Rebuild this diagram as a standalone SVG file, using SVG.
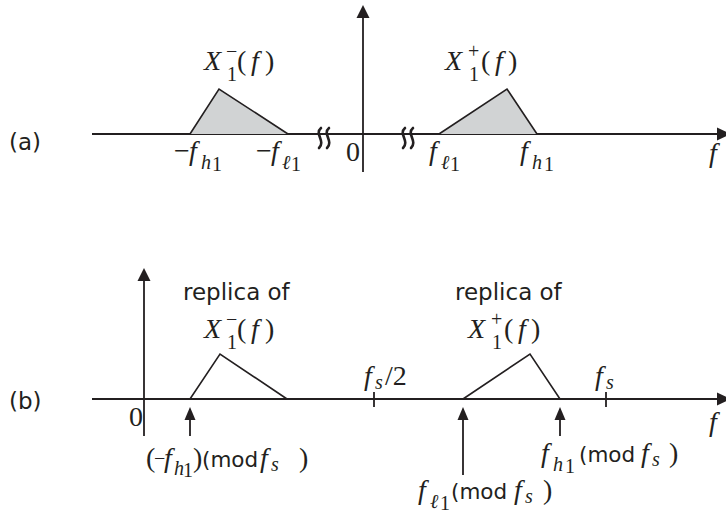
<svg xmlns="http://www.w3.org/2000/svg" width="726" height="522" viewBox="0 0 726 522">
<style>
.ax{stroke:#231f20;stroke-width:1.8;fill:none}
.tri{stroke:#231f20;stroke-width:1.6;fill:none}
.fill{fill:#d1d3d4}
.ah{fill:#231f20}
.brk{stroke:#231f20;stroke-width:2.6;fill:none;stroke-linecap:round}
text{fill:#231f20}
.m{font-family:"Liberation Serif","Times New Roman",serif;font-style:italic;font-size:28px}
.r{font-family:"Liberation Serif","Times New Roman",serif;font-style:normal;font-size:28px}
.sb{font-size:20px}
.s{font-family:"DejaVu Sans",Verdana,sans-serif;font-style:normal;font-size:23px}
.md{font-family:"DejaVu Sans",Verdana,sans-serif;font-style:normal;font-size:21.5px}
</style>
<rect width="726" height="522" fill="#ffffff"/>

<g id="connectors">
  <line class="ax" x1="92" y1="134" x2="720" y2="134"/>
  <polygon class="ah" points="731,134 717,127.5 717,140.5"/>
  <line class="ax" x1="363" y1="16" x2="363" y2="172"/>
  <polygon class="ah" points="363,5 356.5,18 369.5,18"/>
  <path class="brk" d="M321,128 C314,134 326,141 319,148"/>
  <path class="brk" d="M329,128 C322,134 334,141 327,148"/>
  <path class="brk" d="M405,128 C398,134 410,141 403,148"/>
  <path class="brk" d="M413,128 C406,134 418,141 411,148"/>
  <line class="ax" x1="92" y1="399" x2="720" y2="399"/>
  <polygon class="ah" points="731,399 717,392.5 717,405.5"/>
  <line class="ax" x1="144" y1="279" x2="144" y2="436"/>
  <polygon class="ah" points="144,268 137.5,281 150.5,281"/>
  <line class="ax" x1="374" y1="392" x2="374" y2="407"/>
  <line class="ax" x1="606" y1="392" x2="606" y2="407"/>
  <line class="ax" x1="190" y1="418" x2="190" y2="436"/>
  <polygon class="ah" points="190,407 184.5,420 195.5,420"/>
  <line class="ax" x1="463" y1="418" x2="463" y2="475"/>
  <polygon class="ah" points="463,407 457.5,420 468.5,420"/>
  <line class="ax" x1="560" y1="418" x2="560" y2="436"/>
  <polygon class="ah" points="560,407 554.5,420 565.5,420"/>
</g>

<g id="spectrum-a-neg">
  <polygon class="fill" points="190,134 219,89 288,134"/>
  <polyline class="tri" points="190,134 219,89 288,134"/>
</g>
<g id="spectrum-a-pos">
  <polygon class="fill" points="439,134 507,89 537,134"/>
  <polyline class="tri" points="439,134 507,89 537,134"/>
</g>
<g id="replica-neg">
  <polyline class="tri" points="190,399 220,354 287,399"/>
</g>
<g id="replica-pos">
  <polyline class="tri" points="463,399 530,354 560,399"/>
</g>

<g id="labels-a">
  <text class="s" x="9" y="150">(a)</text>
  <text class="m" x="204" y="70">X<tspan class="r sb" x="226" y="58">−</tspan><tspan class="r sb" x="227" y="81">1</tspan><tspan class="r" x="237" y="70">(</tspan><tspan x="251" y="70">f</tspan><tspan class="r" x="265" y="70">)</tspan></text>
  <text class="m" x="445" y="70">X<tspan class="r sb" x="468" y="58">+</tspan><tspan class="r sb" x="469" y="81">1</tspan><tspan class="r" x="481" y="70">(</tspan><tspan x="495" y="70">f</tspan><tspan class="r" x="508" y="70">)</tspan></text>
  <text class="r" x="174" y="160">−<tspan class="m" x="189">f</tspan><tspan class="m sb" x="201" y="169">h</tspan><tspan class="sb" x="212" y="171">1</tspan></text>
  <text class="r" x="256" y="160">−<tspan class="m" x="271">f</tspan><tspan class="m sb" x="282" y="169">ℓ</tspan><tspan class="sb" x="291" y="171">1</tspan></text>
  <text class="r" x="346" y="161">0</text>
  <text class="m" x="429" y="160">f<tspan class="sb" x="441" y="169">ℓ</tspan><tspan class="r sb" x="450" y="171">1</tspan></text>
  <text class="m" x="520" y="160">f<tspan class="sb" x="532" y="169">h</tspan><tspan class="r sb" x="544" y="171">1</tspan></text>
  <text class="m" x="709" y="162">f</text>
</g>

<g id="labels-b">
  <text class="s" x="9" y="409">(b)</text>
  <text class="s" x="183" y="300">replica of</text>
  <text class="s" x="455" y="300">replica of</text>
  <text class="m" x="204" y="338">X<tspan class="r sb" x="226" y="326">−</tspan><tspan class="r sb" x="227" y="349">1</tspan><tspan class="r" x="237" y="338">(</tspan><tspan x="251" y="338">f</tspan><tspan class="r" x="265" y="338">)</tspan></text>
  <text class="m" x="468" y="338">X<tspan class="r sb" x="491" y="326">+</tspan><tspan class="r sb" x="492" y="349">1</tspan><tspan class="r" x="504" y="338">(</tspan><tspan x="518" y="338">f</tspan><tspan class="r" x="531" y="338">)</tspan></text>
  <text class="m" x="364" y="385">f<tspan class="sb" x="375" y="389">s</tspan><tspan class="r" x="385" y="385">/2</tspan></text>
  <text class="m" x="595" y="385">f<tspan class="sb" x="606" y="389">s</tspan></text>
  <text class="r" x="129" y="426">0</text>
  <text class="m" x="709" y="431">f</text>
  <text class="r" x="146" y="467">(<tspan class="sb" x="154" y="465">−</tspan><tspan class="m" x="164" y="467">f</tspan><tspan class="m sb" x="174" y="475">h</tspan><tspan class="sb" x="183" y="477">1</tspan><tspan x="193" y="467">)</tspan><tspan class="md" x="202" y="467">(mod</tspan><tspan class="m" x="260" y="467">f</tspan><tspan class="m sb" x="271" y="471">s</tspan><tspan x="299" y="467">)</tspan></text>
  <text class="m" x="541" y="462">f<tspan class="sb" x="553" y="471">h</tspan><tspan class="r sb" x="565" y="473">1</tspan><tspan class="md" x="579" y="462">(mod</tspan><tspan x="641" y="462">f</tspan><tspan class="sb" x="652" y="466">s</tspan><tspan class="r" x="669" y="462">)</tspan></text>
  <text class="m" x="418" y="499">f<tspan class="sb" x="430" y="508">ℓ</tspan><tspan class="r sb" x="440" y="510">1</tspan><tspan class="md" x="451" y="499">(mod</tspan><tspan x="514" y="499">f</tspan><tspan class="sb" x="525" y="503">s</tspan><tspan class="r" x="543" y="499">)</tspan></text>
</g>
</svg>
